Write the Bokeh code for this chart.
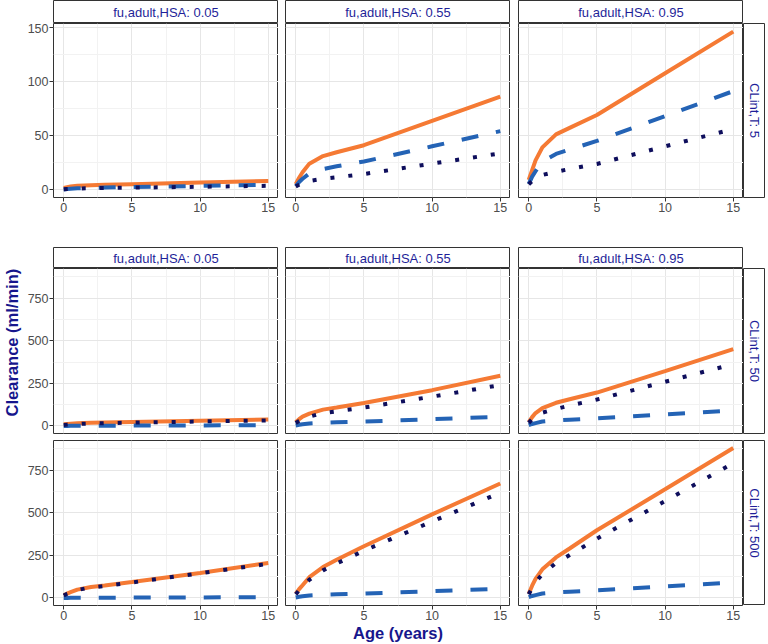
import math
from bokeh.plotting import figure
from bokeh.layouts import row, column
from bokeh.models import Range1d, FixedTicker, Grid, Label, Spacer
from bokeh.embed import file_html
from bokeh.resources import INLINE

# ---------------- data ----------------
ages = [0, 0.25, 0.5, 1, 2, 3, 5, 10, 15]
fu_labels = ["0.05", "0.55", "0.95"]
clint_labels = ["5", "50", "500"]

x_ticks = [0, 5, 10, 15]
x_minor = [2.5, 7.5, 12.5]
y_ticks_top = [0, 50, 100, 150]
y_minor_top = [25, 75, 125]
y_ticks_bottom = [0, 250, 500, 750]
y_minor_bottom = [125, 375, 625, 875]

# dashed series (same in every CLint,T row)
dashed_fu005 = [0.2, 0.5, 0.8, 1.2, 1.6, 1.9, 2.4, 3.4, 4.4]
dashed_fu055 = [3, 7, 10, 15, 19, 21.5, 26, 40, 54]
dashed_fu095 = [5, 12, 17, 26, 33, 37, 45, 68, 91]

# CLint,T = 5
solid_cl5_fu005 = [1.5, 2.2, 2.8, 3.5, 4.0, 4.4, 5.0, 6.5, 8.0]
dotted_cl5_fu005 = [0.3, 0.5, 0.7, 1.0, 1.3, 1.5, 1.8, 2.6, 3.5]
solid_cl5_fu055 = [5, 11, 16, 24, 31, 34.5, 41, 63.5, 86]
dotted_cl5_fu055 = [3, 4.5, 6, 8, 10, 11.4, 14.4, 24, 33.5]
solid_cl5_fu095 = [9, 18, 27, 39, 51, 57, 69, 107.5, 146]
dotted_cl5_fu095 = [5, 8, 10, 13.5, 16.5, 19, 23.7, 40, 56]

# CLint,T = 50
solid_cl50_fu005 = [10, 12, 13.5, 16, 19, 21, 24, 31, 38]
dotted_cl50_fu005 = [6, 8, 9.5, 12, 14.5, 16.5, 19.5, 26.5, 33]
solid_cl50_fu055 = [22, 40, 55, 72, 96, 108, 135, 210, 294]
dotted_cl50_fu055 = [18, 30, 40, 55, 75, 86, 108, 172, 240]
solid_cl50_fu095 = [23, 52, 76, 105, 136, 157, 196, 322, 450]
dotted_cl50_fu095 = [18, 40, 58, 78, 100, 120, 155, 259, 362]

# CLint,T = 500
solid_cl500_fu005 = [16, 26, 34, 49, 64, 73, 94, 147, 205]
dotted_cl500_fu005 = [15, 25, 33, 47, 62, 70, 91, 145, 200]
solid_cl500_fu055 = [25, 52, 75, 122, 181, 224, 303, 490, 671]
dotted_cl500_fu055 = [22, 45, 65, 107, 162, 202, 277, 448, 617]
solid_cl500_fu095 = [25, 72, 112, 168, 238, 290, 397, 637, 879]
dotted_cl500_fu095 = [22, 58, 92, 140, 205, 252, 348, 568, 790]

# ---------------- style ----------------
FONT = "Liberation Sans"
ORANGE = "#F57A34"
BLUE = "#2463B5"
NAVY = "#0E0E5C"
TITLE_BLUE = "#16168C"
STRIP_TEXT = "#1F1F99"
FRAME = "#333333"
TICK_TEXT = "#4D4D4D"

YT_W = 22      # y-title band
LW = 31        # left axis band (at least what the axis needs)
FW = 225       # panel frame width
GAPS = [0, 7, 8]
SW = 22        # right strip width
STRIP_H_TOP = 23
STRIP_H_BOT = 21
FH_TOP = 174
FH_BOT = 165
TOP_MB = 50
R1_MB = 7
R2_MB = 38


def panel(solid, dashed, dotted, yrange, yticks, yminor, col, bottom_axis,
          frame_h, mb_bottom, xlabel=None):
    left_axis = col == 0
    p = figure(frame_width=FW, frame_height=frame_h, output_backend="svg",
               toolbar_location=None,
               x_range=Range1d(-0.75, 15.75), y_range=Range1d(*yrange),
               x_axis_location="below" if bottom_axis else None,
               y_axis_location="left" if left_axis else None)
    p.min_border = 0
    p.min_border_left = LW if left_axis else GAPS[col]
    p.min_border_right = 0
    p.min_border_top = 0
    p.min_border_bottom = mb_bottom
    p.outline_line_color = FRAME
    p.outline_line_width = 1
    p.background_fill_color = "white"
    p.border_fill_color = "white"
    p.title.visible = False

    p.center = [r for r in p.center if not isinstance(r, Grid)]
    xt = FixedTicker(ticks=x_ticks, minor_ticks=x_minor)
    yt = FixedTicker(ticks=yticks, minor_ticks=yminor)
    for dim, tk in ((0, xt), (1, yt)):
        g = Grid(dimension=dim, ticker=tk)
        g.grid_line_color = "#E6E6E6"
        g.grid_line_width = 1
        g.minor_grid_line_color = "#F2F2F2"
        g.minor_grid_line_width = 1
        p.add_layout(g, "center")

    for ax in p.axis:
        ax.axis_line_color = None
        ax.major_tick_line_color = FRAME
        ax.major_tick_out = 4
        ax.major_tick_in = 0
        ax.minor_tick_line_color = None
        ax.major_label_standoff = 1
        ax.major_label_text_font = FONT
        ax.major_label_text_font_size = "12.5px"
        ax.major_label_text_color = TICK_TEXT
    if bottom_axis:
        p.xaxis.ticker = xt
    if left_axis:
        p.yaxis.ticker = yt
    if xlabel:
        p.xaxis.axis_label = xlabel
        p.xaxis.axis_label_text_font = FONT
        p.xaxis.axis_label_text_font_size = "16.5px"
        p.xaxis.axis_label_text_font_style = "bold"
        p.xaxis.axis_label_text_color = TITLE_BLUE
        p.xaxis.axis_label_standoff = 1

    p.line(ages, solid, line_color=ORANGE, line_width=4)
    p.line(ages, dashed, line_color=BLUE, line_width=4, line_dash="17 18")
    p.line(ages, dotted, line_color=NAVY, line_width=4, line_dash="4 14")
    return p


def top_strip(text, col, h):
    s = figure(frame_width=FW, frame_height=h, output_backend="svg",
               toolbar_location=None, x_range=Range1d(0, 1), y_range=Range1d(0, 1),
               x_axis_location=None, y_axis_location=None)
    s.min_border = 0
    s.min_border_left = LW if col == 0 else GAPS[col]
    s.min_border_right = 0
    s.min_border_top = 0
    s.min_border_bottom = 0
    s.grid.visible = False
    s.title.visible = False
    s.outline_line_color = FRAME
    s.background_fill_color = "white"
    s.border_fill_color = "white"
    s.add_layout(Label(x=0.5, y=0.5, text=text, text_align="center",
                       text_baseline="middle", text_font=FONT,
                       text_font_size="13px", text_color=STRIP_TEXT))
    return s


def right_strip(text, h, mb_bottom):
    s = figure(frame_width=SW, frame_height=h, output_backend="svg",
               toolbar_location=None, x_range=Range1d(0, 1), y_range=Range1d(0, 1),
               x_axis_location=None, y_axis_location=None)
    s.min_border = 0
    s.min_border_bottom = mb_bottom
    s.grid.visible = False
    s.title.visible = False
    s.outline_line_color = FRAME
    s.background_fill_color = "white"
    s.border_fill_color = "white"
    s.add_layout(Label(x=0.5, y=0.5, text=text, text_align="center",
                       text_baseline="middle", angle=-math.pi / 2,
                       text_font=FONT, text_font_size="13px",
                       text_color=STRIP_TEXT))
    return s


dashed_by_fu = [dashed_fu005, dashed_fu055, dashed_fu095]
rows = {
    "5": ([solid_cl5_fu005, solid_cl5_fu055, solid_cl5_fu095],
          [dotted_cl5_fu005, dotted_cl5_fu055, dotted_cl5_fu095]),
    "50": ([solid_cl50_fu005, solid_cl50_fu055, solid_cl50_fu095],
           [dotted_cl50_fu005, dotted_cl50_fu055, dotted_cl50_fu095]),
    "500": ([solid_cl500_fu005, solid_cl500_fu055, solid_cl500_fu095],
            [dotted_cl500_fu005, dotted_cl500_fu055, dotted_cl500_fu095]),
}

yr_top = (-7.3, 153.5)
yr_bot = (-44, 923)

# ---- top block (CLint,T = 5) ----
top_cols = []
for j, fu in enumerate(fu_labels):
    s = top_strip("fu,adult,HSA: " + fu, j, STRIP_H_TOP)
    solid, dotted = rows[clint_labels[0]]
    p = panel(solid[j], dashed_by_fu[j], dotted[j], yr_top, y_ticks_top, y_minor_top,
              j, True, FH_TOP, TOP_MB)
    top_cols.append(column(s, p))
top_cols.append(column(Spacer(width=SW, height=STRIP_H_TOP),
                       right_strip("CLint,T: " + clint_labels[0], FH_TOP, TOP_MB)))
top_block = row(*top_cols)

# ---- bottom block (CLint,T = 50, 500) ----
bot_cols = []
for j, fu in enumerate(fu_labels):
    s = top_strip("fu,adult,HSA: " + fu, j, STRIP_H_BOT)
    solid1, dotted1 = rows[clint_labels[1]]
    solid2, dotted2 = rows[clint_labels[2]]
    p1 = panel(solid1[j], dashed_by_fu[j], dotted1[j], yr_bot, y_ticks_bottom, y_minor_bottom,
               j, False, FH_BOT, R1_MB)
    p2 = panel(solid2[j], dashed_by_fu[j], dotted2[j], yr_bot, y_ticks_bottom, y_minor_bottom,
               j, True, FH_BOT, R2_MB, xlabel="Age (years)" if j == 1 else None)
    bot_cols.append(column(s, p1, p2))
bot_cols.append(column(Spacer(width=SW, height=STRIP_H_BOT),
                       right_strip("CLint,T: " + clint_labels[1], FH_BOT, R1_MB),
                       right_strip("CLint,T: " + clint_labels[2], FH_BOT, 0)))
bottom_block = row(*bot_cols)

# ---- y title band ----
TOTAL_H = STRIP_H_TOP + FH_TOP + TOP_MB + STRIP_H_BOT + FH_BOT + R1_MB + FH_BOT + R2_MB
yt_fig = figure(frame_width=YT_W, frame_height=TOTAL_H, output_backend="svg",
                toolbar_location=None, x_range=Range1d(0, 1), y_range=Range1d(0, 1),
                x_axis_location=None, y_axis_location=None)
yt_fig.min_border = 0
yt_fig.grid.visible = False
yt_fig.title.visible = False
yt_fig.outline_line_color = None
yt_fig.background_fill_color = "white"
yt_fig.border_fill_color = "white"
yt_fig.add_layout(Label(x=0.52, y=0.468, text="Clearance (ml/min)", text_align="center",
                        text_baseline="middle", angle=math.pi / 2, text_font=FONT,
                        text_font_size="16.5px", text_font_style="bold",
                        text_color=TITLE_BLUE))

layout = row(yt_fig, column(top_block, bottom_block))

open("out.html", "w").write(file_html(layout, INLINE))
